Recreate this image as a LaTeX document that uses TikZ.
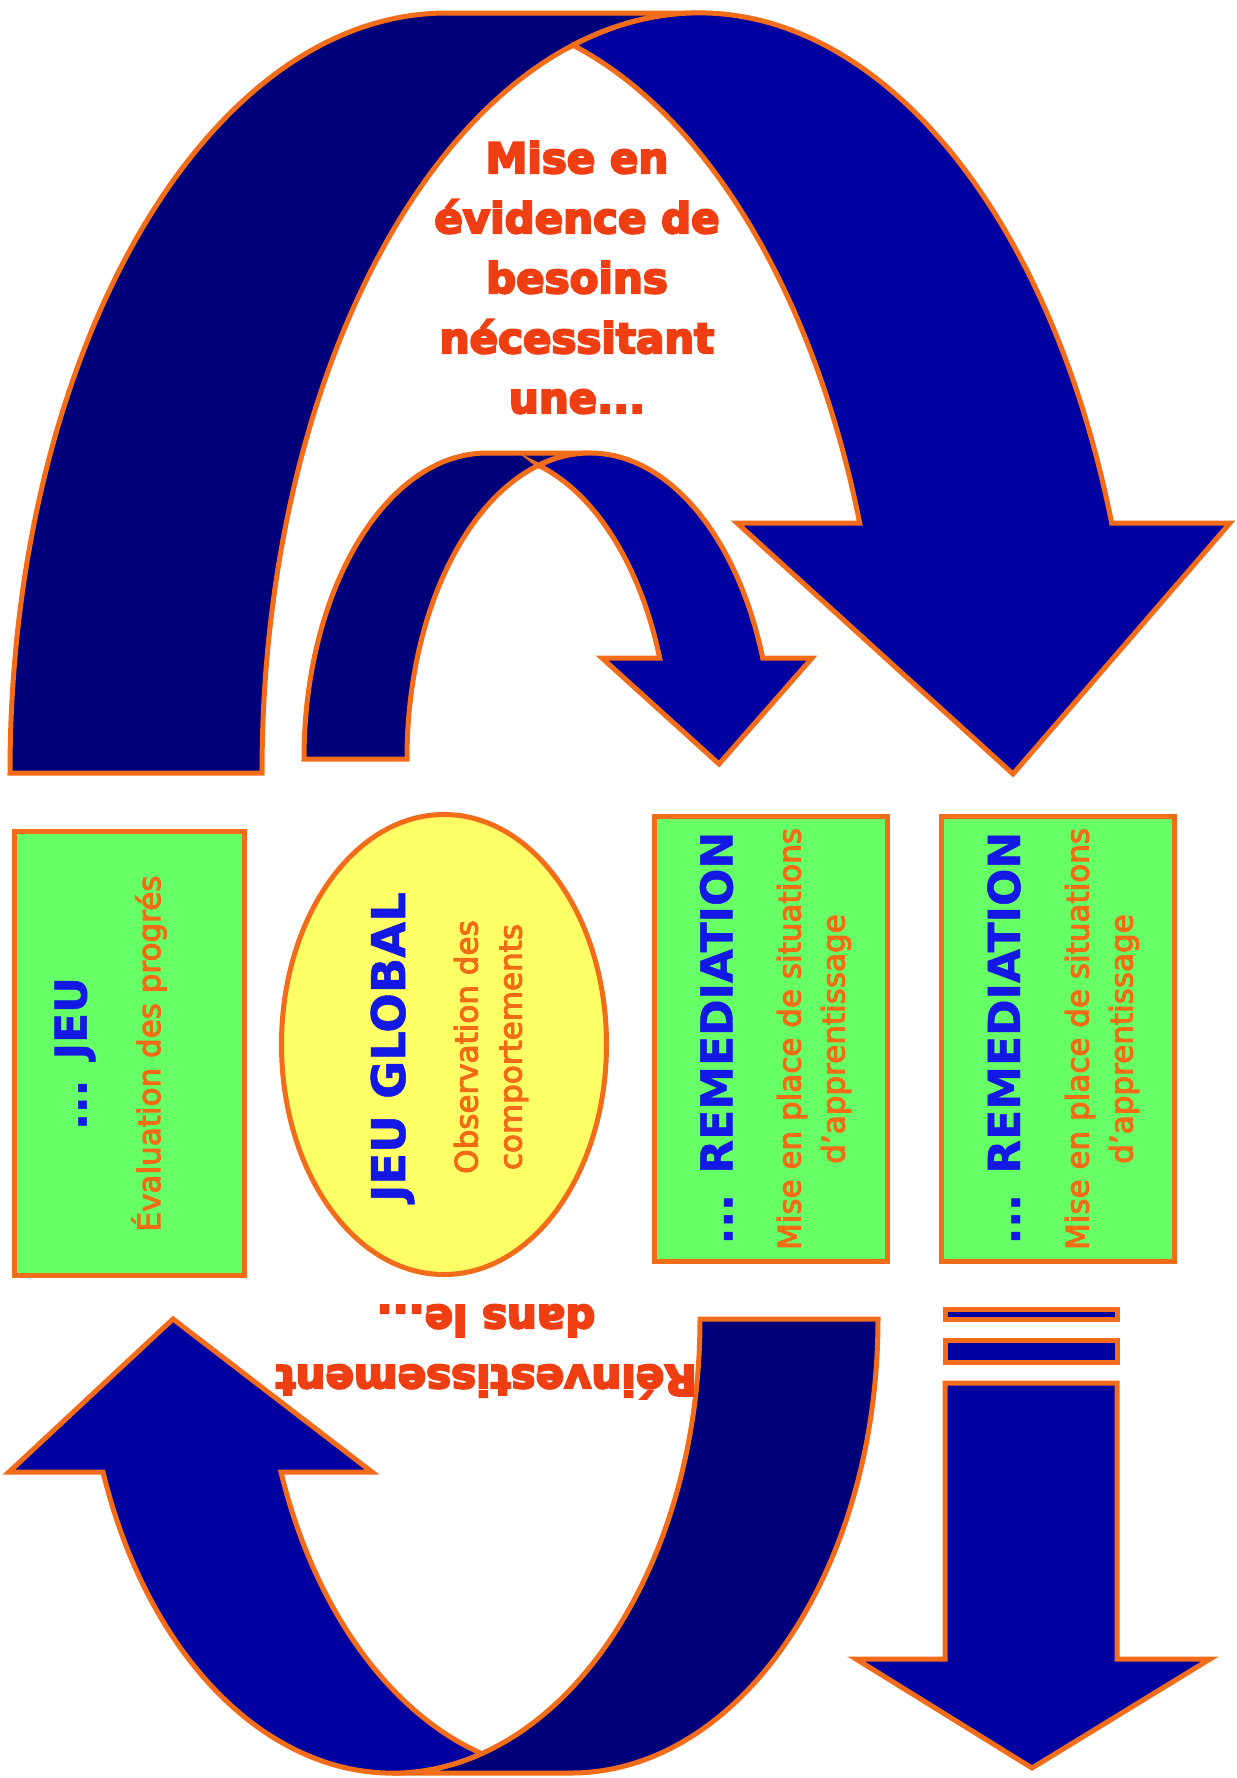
\documentclass[tikz,border=0pt]{standalone}
\usepackage{fontspec}
\setmainfont{DejaVu Sans}
\newfontfamily\heavyfont{DejaVu Sans Bold}[FakeBold=5]
\newfontfamily\titlefont{DejaVu Sans Bold}[FakeBold=1]
\newfontfamily\notefont{DejaVu Sans}[FakeBold=3.5]
\usetikzlibrary{shapes.geometric}

\definecolor{backnavy}{RGB}{0,0,122}
\definecolor{frontblue}{RGB}{0,0,160}
\definecolor{edgeorange}{RGB}{242,108,26}
\definecolor{boxgreen}{RGB}{102,255,102}
\definecolor{ovalyellow}{RGB}{255,255,102}
\definecolor{titleblue}{RGB}{20,24,228}
\definecolor{noteorange}{RGB}{242,108,22}
\definecolor{callred}{RGB}{238,62,18}

\tikzset{
  bandback/.style={fill=backnavy, draw=edgeorange, line width=5pt},
  bandfront/.style={fill=frontblue, draw=edgeorange, line width=5pt},
  greenbox/.style={rectangle, fill=boxgreen, draw=edgeorange, line width=5pt,
    inner sep=0pt, minimum width=233pt, minimum height=445pt},
  oval/.style={ellipse, fill=ovalyellow, draw=edgeorange, line width=5pt,
    inner sep=0pt, minimum width=325pt, minimum height=460pt},
  calltext/.style={text=callred, align=center, inner sep=0pt,
    font=\heavyfont\fontsize{42}{60}\selectfont},
  headtext/.style={text=titleblue, inner sep=0pt, rotate=90,
    font=\titlefont\fontsize{44}{52}\selectfont},
  notetext/.style={text=noteorange, inner sep=0pt, rotate=90, align=center,
    font=\notefont\fontsize{31}{44}\selectfont},
}

\begin{document}
% one unit = 1pt, y pointing down; the sheet is 1237 x 1778
\begin{tikzpicture}[x=1pt, y=1pt, yscale=-1]
\useasboundingbox (0,0) rectangle (1237,1778);
\fill[white] (0,0) rectangle (1237,1778);

% ---- large curved arrow (top) ----
\path[bandback] (10,773) arc[start angle=180, end angle=270, x radius=437pt, y radius=760pt]
  -- (699,13) arc[start angle=270, end angle=180, x radius=437pt, y radius=760pt] -- cycle;
\path[bandfront] (573,45.3) arc[start angle=253.24, end angle=340.8, x radius=437pt, y radius=760pt]
  -- (1230,523) -- (1013,774) -- (737,523) -- (859.7,523)
  arc[start angle=340.8, end angle=286.76, x radius=437pt, y radius=760pt] -- cycle;

% ---- small curved arrow (inside) ----
\path[bandback] (304,759) arc[start angle=180, end angle=270, x radius=183pt, y radius=306pt]
  -- (590,453) arc[start angle=270, end angle=180, x radius=183pt, y radius=306pt] -- cycle;
\path[bandfront] (538.5,465.4) arc[start angle=253.66, end angle=340.73, x radius=183pt, y radius=306pt]
  -- (812,658) -- (719,764) -- (602,658) -- (659.7,658)
  arc[start angle=340.73, end angle=286.34, x radius=183pt, y radius=306pt] -- cycle;

% ---- curved arrow (bottom, pointing up) ----
\path[bandback] (878,1319) arc[start angle=0, end angle=90, x radius=307.5pt, y radius=454pt]
  -- (392.5,1773) arc[start angle=90, end angle=0, x radius=307.5pt, y radius=454pt] -- cycle;
\path[bandfront] (481.5,1753.6) arc[start angle=73.18, end angle=160.3, x radius=307.5pt, y radius=454pt]
  -- (9,1472) -- (173,1319) -- (372,1472) -- (281,1472)
  arc[start angle=160.3, end angle=106.82, x radius=307.5pt, y radius=454pt] -- cycle;

% ---- straight arrow with two bars (bottom right) ----
\path[bandfront] (945,1309) rectangle (1117,1319);
\path[bandfront] (945,1340) rectangle (1117,1362);
\path[bandfront] (945,1383) -- (1117,1383) -- (1117,1659) -- (1210,1659)
  -- (1032,1768) -- (856,1659) -- (945,1659) -- cycle;

% ---- captions along the arrows ----
\node[calltext, anchor=north] (need) at (577,141)
  {Mise en\\évidence de\\besoins\\nécessitant\\une...};
\node[calltext, anchor=north, rotate=180] (reinv) at (486,1399)
  {Réinvestissement\\dans le...};

% ---- boxes ----
\node[greenbox, minimum width=230pt, minimum height=444pt] (jeu) at (129.5,1053.5) {};
\node[oval] (global) at (444,1044.5) {};
\node[greenbox] (rem1) at (771,1039) {};
\node[greenbox] (rem2) at (1058,1039) {};

\node[headtext] (jeuH) at (75,1053.5) {... JEU};
\node[notetext] (jeuN) at (149,1053.5) {Évaluation des progrés};

\node[headtext, font=\titlefont\fontsize{46.5}{52}\selectfont] (globalH) at (392.5,1047) {JEU GLOBAL};
\node[notetext] (globalN) at (491,1047) {Observation des\\comportements};

\node[headtext] (rem1H) at (716.5,1038) {... REMEDIATION};
\node[notetext] (rem1N) at (814,1039) {Mise en place de situations\\d’apprentissage};

\node[headtext] (rem2H) at (1004,1038) {... REMEDIATION};
\node[notetext] (rem2N) at (1102,1039) {Mise en place de situations\\d’apprentissage};
\end{tikzpicture}
\end{document}
